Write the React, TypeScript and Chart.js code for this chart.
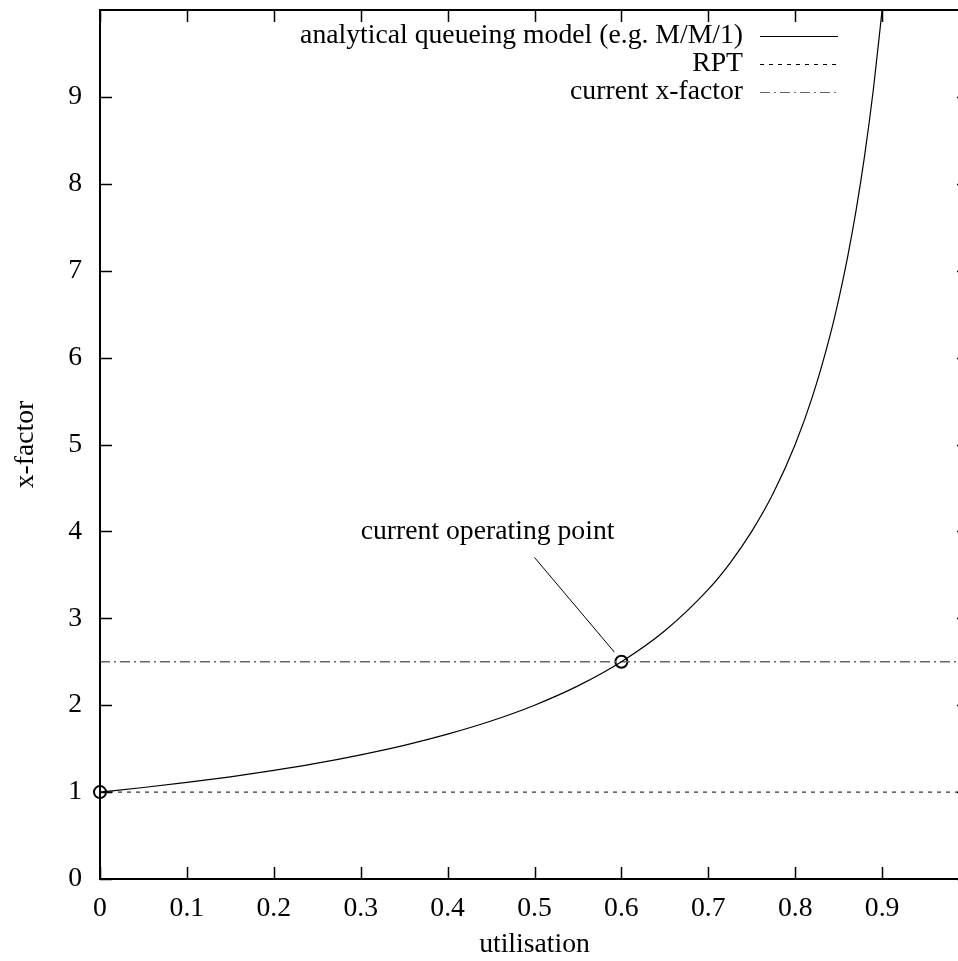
import React, { useEffect, useRef } from 'react';
import { Chart, registerables } from 'chart.js';

Chart.register(...registerables);

// utilisation values and x-factor
const curveU = [0, 0.05, 0.1, 0.15, 0.2, 0.25, 0.3, 0.35, 0.4, 0.45, 0.5, 0.55, 0.6, 0.65, 0.7, 0.725, 0.75, 0.775, 0.8, 0.82, 0.84, 0.85, 0.86, 0.87, 0.88, 0.89, 0.9];
const curveXF = [1, 1.053, 1.111, 1.176, 1.25, 1.333, 1.429, 1.538, 1.667, 1.818, 2, 2.222, 2.5, 2.857, 3.333, 3.636, 4, 4.444, 5, 5.556, 6.25, 6.667, 7.143, 7.692, 8.333, 9.091, 10];

const rptU = [0, 1];
const rptXF = [1, 1];

const currentU = [0, 1];
const currentXF = [2.5, 2.5];

const pointU = [0, 0.6];
const pointXF = [1, 2.5];

const arrowU = [0.5, 0.592];
const arrowXF = [3.7, 2.61];

const annotationText = 'current operating point';
const annotationAt = [0.3, 4];

const legendLabels = ['analytical queueing model (e.g. M/M/1)', 'RPT', 'current x-factor'];
const xTicks = [0, 0.1, 0.2, 0.3, 0.4, 0.5, 0.6, 0.7, 0.8, 0.9];
const yTicks = [0, 1, 2, 3, 4, 5, 6, 7, 8, 9];

const FONT = '"Liberation Serif", "Times New Roman", Times, serif';
const FS = 27.7;

const toXY = (xs: number[], ys: number[]) => xs.map((x, i) => ({ x, y: ys[i] }));

const overlay = {
  id: 'gnuplotOverlay',
  afterDatasetsDraw(chart: any) {
    const { ctx, chartArea: a, scales } = chart;
    const xs = scales.x;
    const ys = scales.y;
    ctx.save();
    // border
    ctx.strokeStyle = '#000';
    ctx.lineWidth = 2;
    ctx.setLineDash([]);
    ctx.strokeRect(a.left, a.top, a.right - a.left, a.bottom - a.top);
    // inward ticks (mirrored)
    const tl = 12;
    ctx.lineWidth = 1.5;
    ctx.beginPath();
    xTicks.forEach((v) => {
      const px = Math.round(xs.getPixelForValue(v)) + 0.5;
      ctx.moveTo(px, a.bottom);
      ctx.lineTo(px, a.bottom - tl);
      ctx.moveTo(px, a.top);
      ctx.lineTo(px, a.top + tl);
    });
    yTicks.forEach((v) => {
      const py = Math.round(ys.getPixelForValue(v)) + 0.5;
      ctx.moveTo(a.left, py);
      ctx.lineTo(a.left + tl, py);
      ctx.moveTo(a.right, py);
      ctx.lineTo(a.right - tl, py);
    });
    ctx.stroke();

    // legend
    ctx.font = `${FS}px ${FONT}`;
    ctx.fillStyle = '#000';
    ctx.textAlign = 'right';
    ctx.textBaseline = 'middle';
    const rows = [36, 64, 92];
    const styles = [
      { color: '#000', dash: [] as number[] },
      { color: '#000', dash: [4, 5] },
      { color: '#666', dash: [10, 4, 2, 4] },
    ];
    legendLabels.forEach((lab, i) => {
      ctx.fillText(lab, 743, rows[i]);
      ctx.strokeStyle = styles[i].color;
      ctx.lineWidth = 1;
      ctx.setLineDash(styles[i].dash);
      ctx.beginPath();
      ctx.moveTo(760, rows[i] + 0.5);
      ctx.lineTo(838, rows[i] + 0.5);
      ctx.stroke();
    });
    ctx.setLineDash([]);

    // annotation label
    ctx.textAlign = 'left';
    ctx.fillText(annotationText, xs.getPixelForValue(annotationAt[0]), ys.getPixelForValue(annotationAt[1]));
    ctx.restore();
  },
};

export default function App() {
  const ref = useRef<HTMLCanvasElement | null>(null);

  useEffect(() => {
    if (!ref.current) return;
    Chart.defaults.font.family = FONT;
    Chart.defaults.font.size = FS;
    Chart.defaults.color = '#000';
    const chart = new Chart(ref.current, {
      type: 'line',
      data: {
        datasets: [
          {
            label: legendLabels[0],
            data: toXY(curveU, curveXF),
            borderColor: '#000',
            borderWidth: 1.2,
            pointRadius: 0,
            cubicInterpolationMode: 'monotone',
          },
          {
            label: legendLabels[1],
            data: toXY(rptU, rptXF),
            borderColor: '#000',
            borderWidth: 1,
            borderDash: [4, 5],
            pointRadius: 0,
          },
          {
            label: legendLabels[2],
            data: toXY(currentU, currentXF),
            borderColor: '#666',
            borderWidth: 1.3,
            borderDash: [10, 4, 2, 4],
            pointRadius: 0,
          },
          {
            label: 'arrow',
            data: toXY(arrowU, arrowXF),
            borderColor: '#000',
            borderWidth: 1,
            pointRadius: 0,
          },
          {
            label: 'points',
            data: toXY(pointU, pointXF),
            showLine: false,
            borderColor: '#000',
            backgroundColor: 'rgba(0,0,0,0)',
            pointRadius: 6,
            pointBorderWidth: 2,
            pointBorderColor: '#000',
            pointBackgroundColor: 'rgba(0,0,0,0)',
            clip: false as any,
          },
        ],
      },
      options: {
        animation: false,
        responsive: false,
        devicePixelRatio: 1,
        events: [],
        layout: { padding: { top: 10, right: 11, bottom: 0, left: 0 } },
        plugins: {
          legend: { display: false },
          tooltip: { enabled: false },
        },
        scales: {
          x: {
            type: 'linear',
            min: 0,
            max: 1,
            border: { display: false },
            grid: { display: false, drawTicks: false },
            ticks: {
              stepSize: 0.1,
              padding: 13,
              maxRotation: 0,
              autoSkip: false,
              color: '#000',
              font: { size: FS, family: FONT },
              callback: (v: any) => {
                const n = Math.round(Number(v) * 10) / 10;
                return n >= 1 ? '' : String(n);
              },
            },
            title: {
              display: true,
              text: 'utilisation',
              color: '#000',
              font: { size: FS, family: FONT },
              padding: { top: 0, bottom: 0 },
            },
            afterFit: (s: any) => {
              s.height = 82;
              s.paddingLeft = 0;
              s.paddingRight = 0;
            },
          },
          y: {
            type: 'linear',
            min: 0,
            max: 10,
            border: { display: false },
            grid: { display: false, drawTicks: false },
            ticks: {
              stepSize: 1,
              padding: 18,
              autoSkip: false,
              color: '#000',
              font: { size: FS, family: FONT },
              callback: (v: any) => (Number(v) >= 10 ? '' : String(v)),
            },
            title: {
              display: true,
              text: 'x-factor',
              color: '#000',
              font: { size: FS, family: FONT },
              padding: { top: 9, bottom: 0 },
            },
            afterFit: (s: any) => {
              s.width = 100;
              s.paddingTop = 0;
              s.paddingBottom = 0;
            },
          },
        },
      } as any,
      plugins: [overlay],
    });
    return () => chart.destroy();
  }, []);

  return (
    <div style={{ position: 'fixed', left: 0, top: 0, width: 958, height: 961, overflow: 'hidden', background: '#fff' }}>
      <canvas ref={ref} width={980} height={961} style={{ display: 'block', width: 980, height: 961 }} />
    </div>
  );
}
